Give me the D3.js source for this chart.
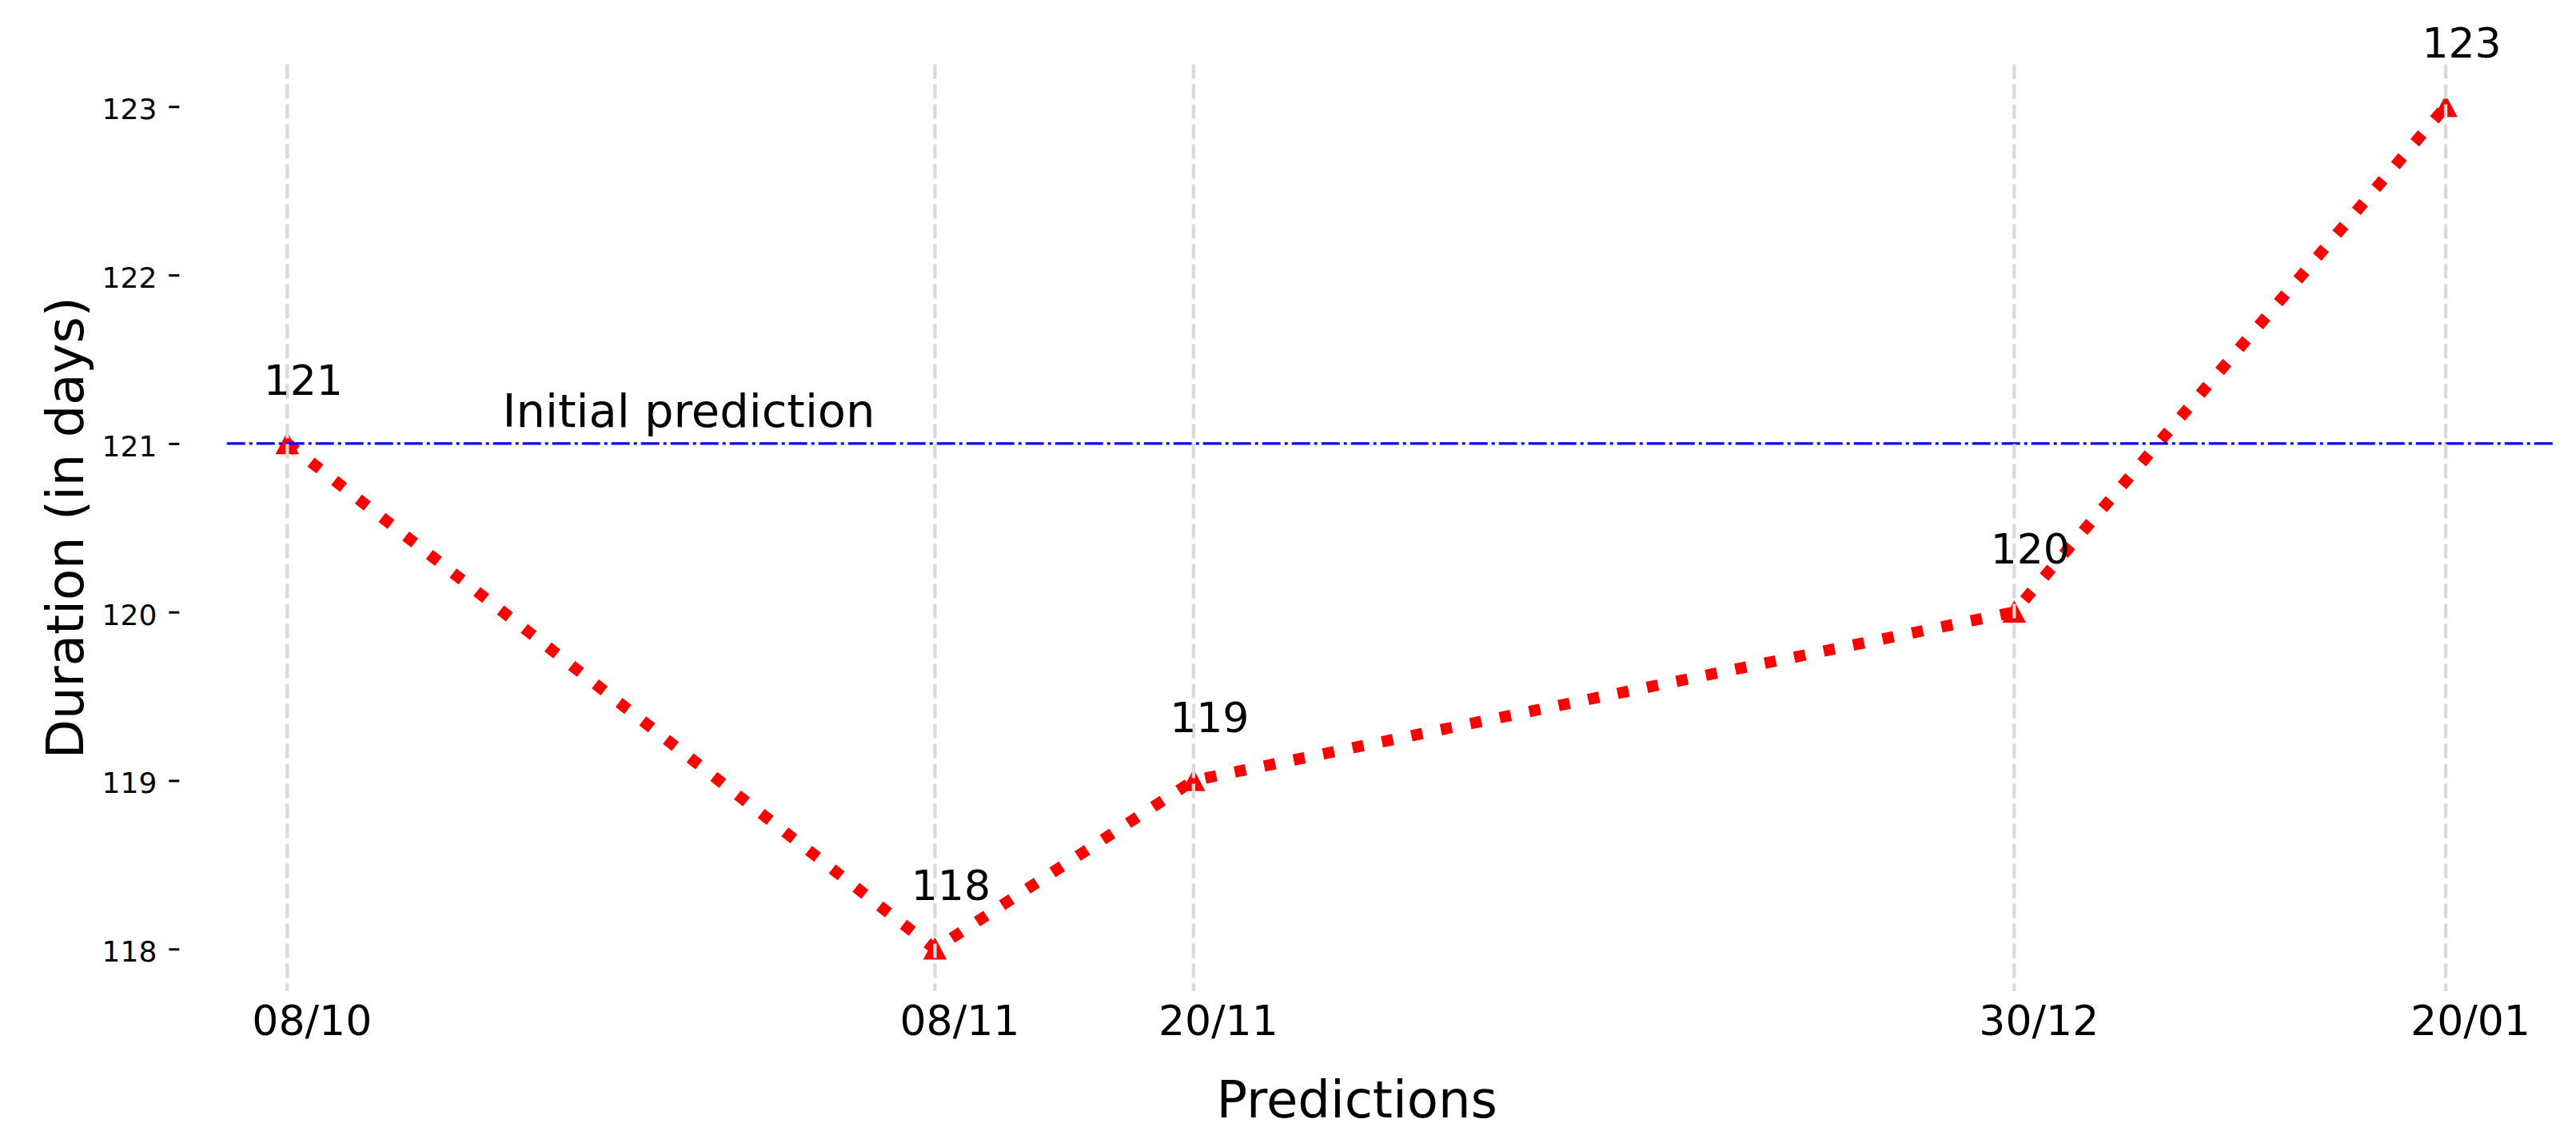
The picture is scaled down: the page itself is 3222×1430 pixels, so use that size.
<!DOCTYPE html>
<html><head><meta charset="utf-8">
<script src="https://cdn.jsdelivr.net/npm/d3@7"></script>
<style>
body{margin:0;background:#fff}
svg{display:block}
text{font-family:"DejaVu Sans",sans-serif;fill:#000}
</style>
</head><body>
<svg id="chart" width="3222" height="1430"></svg>
<script>
// ---- data ----
const predictionDates = ["2020-10-08T00:00","2020-11-08T05:00","2020-11-20T16:00","2020-12-30T05:00","2021-01-20T00:00"];
const tickLabels = ["08/10","08/11","20/11","30/12","20/01"];
const durations = [121,118,119,120,123];
const yTicks = [118,119,120,121,122,123];
const initialPrediction = 121;
const refLabelText = "Initial prediction";
const refLabelDate = "2020-10-18T09:00";
const refLabelValue = 121.1;
const xTitle = "Predictions";
const yTitle = "Duration (in days)";

// ---- layout ----
const W = 3222, H = 1430;
const plot = {left: 224.3, right: 3194, top: 80.6, bottom: 1240};

const parse = d3.utcParse("%Y-%m-%dT%H:%M");
const data = predictionDates.map((d,i)=>({date: parse(d), value: durations[i], label: tickLabels[i]}));

const xExt = d3.extent(data, d=>d.date);
const xPad = (xExt[1]-xExt[0])*0.05;
const x = d3.scaleUtc()
  .domain([new Date(+xExt[0]-xPad), new Date(+xExt[1]+xPad)])
  .range([plot.left, plot.right]);

const yExt = d3.extent(durations);
const yPad = (yExt[1]-yExt[0])*0.05;
const y = d3.scaleLinear()
  .domain([yExt[0]-yPad, yExt[1]+yPad])
  .range([plot.bottom, plot.top]);

const svg = d3.select("#chart");

// red dotted line
const line = d3.line().x(d=>x(d.date)).y(d=>y(d.value));
svg.append("path").datum(data)
  .attr("d", line)
  .attr("fill","none")
  .attr("stroke","#ff0000")
  .attr("stroke-width",14.2)
  .attr("stroke-dasharray","14.2 23.4")
  .attr("stroke-linecap","butt");

// triangle markers
svg.append("g").selectAll("path").data(data).join("path")
  .attr("transform", d=>`translate(${x(d.date)},${y(d.value)})`)
  .attr("d","M0,-13L13.5,12.5L-13.5,12.5Z")
  .attr("fill","#ff0000")
  .attr("stroke","#ff0000")
  .attr("stroke-width",1.5);

// initial prediction line
const hx0 = plot.left + 0.02*(plot.right-plot.left);
svg.append("line")
  .attr("x1",hx0).attr("x2",plot.right)
  .attr("y1",y(initialPrediction)).attr("y2",y(initialPrediction))
  .attr("stroke","#0000ff")
  .attr("stroke-width",3.3)
  .attr("stroke-dasharray","23 5 4 5");

// vertical grid
svg.append("g").selectAll("line").data(data).join("line")
  .attr("x1",d=>x(d.date)).attr("x2",d=>x(d.date))
  .attr("y1",plot.top).attr("y2",plot.bottom)
  .attr("stroke","#dadada")
  .attr("stroke-width",4.3)
  .attr("stroke-dasharray","18 7");

// y axis
const yAxis = d3.axisLeft(y).tickValues(yTicks).tickSize(13).tickPadding(15).tickFormat(d3.format("d"));
const gy = svg.append("g").attr("transform",`translate(${plot.left},0)`).call(yAxis);
gy.select(".domain").remove();
gy.selectAll(".tick line").attr("stroke","#000").attr("stroke-width",3);
gy.selectAll(".tick text").attr("font-size",36).attr("font-family","DejaVu Sans").attr("fill","#000").attr("dy","0.43em");

// x axis labels
const xAxis = d3.axisBottom(x).tickValues(data.map(d=>d.date)).tickSize(0).tickPadding(0)
  .tickFormat((d,i)=>tickLabels[i]);
const gx = svg.append("g").attr("transform",`translate(0,1295)`).call(xAxis);
gx.select(".domain").remove();
gx.selectAll(".tick text").attr("font-size",52).attr("font-family","DejaVu Sans").attr("fill","#000")
  .attr("dy",0).attr("dx",30.5);

// data labels
svg.append("g").selectAll("text").data(data).join("text")
  .attr("x",d=>x(d.date)+20)
  .attr("y",d=>y(d.value)-61)
  .attr("text-anchor","middle")
  .attr("font-size",52)
  .text(d=>d.value);

// reference label
svg.append("text")
  .attr("x",x(parse(refLabelDate)))
  .attr("y",y(refLabelValue))
  .attr("font-size",57.5)
  .text(refLabelText);

// axis titles
svg.append("text")
  .attr("x",(plot.left+plot.right)/2-12)
  .attr("y",1398)
  .attr("text-anchor","middle")
  .attr("font-size",64)
  .text(xTitle);
svg.append("text")
  .attr("transform",`translate(104,${(plot.top+plot.bottom)/2}) rotate(-90)`)
  .attr("text-anchor","middle")
  .attr("font-size",64)
  .text(yTitle);
</script>
</body></html>
